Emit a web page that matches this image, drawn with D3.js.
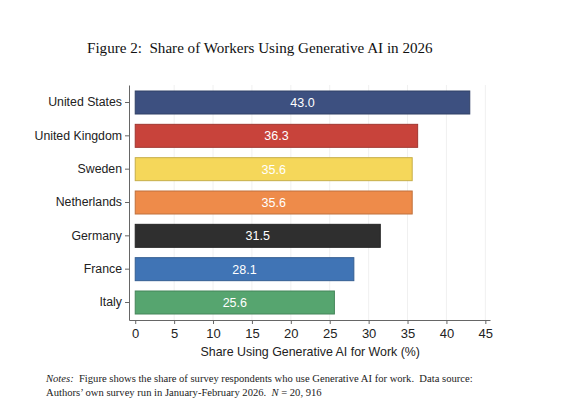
<!DOCTYPE html>
<html>
<head>
<meta charset="utf-8">
<script src="https://cdn.jsdelivr.net/npm/d3@7"></script>
<style>
  body { margin: 0; background: #fff; }
  svg text { font-family: "Liberation Sans", Arial, sans-serif; }
  .serif { font-family: "Liberation Serif", "Times New Roman", serif !important; }
</style>
</head>
<body>
<div id="chart"></div>
<script>
// data
const countries = ["United States", "United Kingdom", "Sweden", "Netherlands", "Germany", "France", "Italy"];
const shares = [43.0, 36.3, 35.6, 35.6, 31.5, 28.1, 25.6];
const barColors = ["#3d5080", "#c8433b", "#f5d75a", "#ee8b4a", "#2f2f2f", "#4074b5", "#56a56f"];
const xTicks = [0, 5, 10, 15, 20, 25, 30, 35, 40, 45];

const width = 561, height = 410;
const data = countries.map((c, i) => ({ country: c, share: shares[i], color: barColors[i] }));

const svg = d3.select("#chart").append("svg")
  .attr("width", width)
  .attr("height", height);

const x = d3.scaleLinear()
  .domain([-0.8, 45.6])
  .range([129, 490]);

const y = d3.scaleBand()
  .domain(countries)
  .range([85, 320])
  .paddingInner(0.31)
  .paddingOuter(0.18);

// faint vertical gridlines
svg.append("g")
  .selectAll("line")
  .data(xTicks.slice(1))
  .join("line")
  .attr("x1", d => x(d)).attr("x2", d => x(d))
  .attr("y1", 85).attr("y2", 320)
  .attr("stroke", "#f0f0f0")
  .attr("stroke-width", 1);

// bars
svg.append("g")
  .selectAll("rect")
  .data(data)
  .join("rect")
  .attr("x", x(0))
  .attr("y", d => y(d.country))
  .attr("width", d => x(d.share) - x(0))
  .attr("height", y.bandwidth())
  .attr("fill", d => d.color)
  .attr("stroke", d => d3.color(d.color).darker(0.6))
  .attr("stroke-width", 1);

// value labels
svg.append("g")
  .selectAll("text")
  .data(data)
  .join("text")
  .attr("x", d => (x(0) + x(d.share)) / 2)
  .attr("y", d => y(d.country) + y.bandwidth() / 2)
  .attr("dy", "0.36em")
  .attr("text-anchor", "middle")
  .attr("fill", "#fff")
  .style("font-size", "12.5px")
  .text(d => d.share.toFixed(1));

// x axis
const xAxis = svg.append("g")
  .attr("transform", "translate(0,320)")
  .call(d3.axisBottom(x).tickValues(xTicks).tickSize(4).tickSizeOuter(0).tickPadding(5));
xAxis.select(".domain").attr("stroke", "#666");
xAxis.selectAll(".tick line").attr("stroke", "#666");
xAxis.selectAll("text").style("font-size", "13px").attr("fill", "#222");

// y axis
const yAxis = svg.append("g")
  .attr("transform", "translate(129,0)")
  .call(d3.axisLeft(y).tickSize(4).tickSizeOuter(0).tickPadding(3));
yAxis.select(".domain").attr("stroke", "#666");
yAxis.selectAll(".tick line").attr("stroke", "#666");
yAxis.selectAll("text").style("font-size", "12.3px").attr("fill", "#222");

// axis title
svg.append("text")
  .attr("x", (x(0) + x(45)) / 2)
  .attr("y", 356)
  .attr("text-anchor", "middle")
  .attr("fill", "#222")
  .style("font-size", "12.4px")
  .text("Share Using Generative AI for Work (%)");

// figure title
svg.append("text")
  .attr("class", "serif")
  .attr("x", 87)
  .attr("y", 53)
  .attr("fill", "#111")
  .style("font-size", "15.1px")
  .text("Figure 2:\u00a0 Share of Workers Using Generative AI in 2026");

// notes
const notes = svg.append("g").attr("class", "serif").style("font-size", "10.6px").attr("fill", "#222");
const n1 = notes.append("text").attr("class", "serif").attr("x", 46).attr("y", 382);
n1.append("tspan").style("font-style", "italic").text("Notes:");
n1.append("tspan").text("\u00a0 Figure shows the share of survey respondents who use Generative AI for work.\u00a0 Data source:");
const n2 = notes.append("text").attr("class", "serif").attr("x", 46).attr("y", 396);
n2.append("tspan").text("Authors\u2019 own survey run in January-February 2026.\u00a0 ");
n2.append("tspan").style("font-style", "italic").text("N");
n2.append("tspan").text(" = 20, 916");
</script>
</body>
</html>
